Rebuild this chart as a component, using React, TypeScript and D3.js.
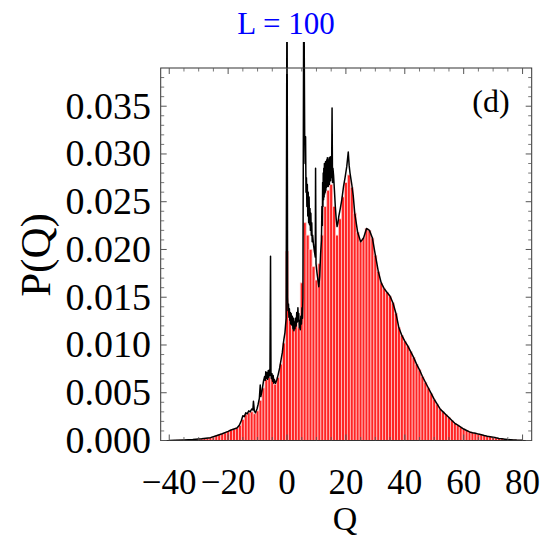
import React from "react";
import * as d3 from "d3";

// Histogram bins (integer Q) and probabilities P(Q)
const binQ: number[] = [];
for (let q = -38; q <= 80; q++) binQ.push(q);
const binP: number[] = [
  0.00002, 0.00003, 0.00004, 0.00005, 0.00006, 0.00008, 0.0001, 0.00012, 0.00015, 0.00018,
  0.0002, 0.00025, 0.0003, 0.0004, 0.0005, 0.0006, 0.0007, 0.0008, 0.00095, 0.0011,
  0.0012, 0.0013, 0.0016, 0.0022, 0.0027, 0.0029, 0.003, 0.0028, 0.0031, 0.0042,
  0.0055, 0.0064, 0.0066, 0.0066, 0.0059, 0.0066, 0.008, 0.0102, 0.0198, 0.0128,
  0.0117, 0.0125, 0.0118, 0.0165, 0.0228, 0.0215, 0.02, 0.0182, 0.0168, 0.0185,
  0.0215, 0.0245, 0.0262, 0.0268, 0.0245, 0.0215, 0.0232, 0.0255, 0.027, 0.0278,
  0.0265, 0.0238, 0.0218, 0.0208, 0.0212, 0.0222, 0.022, 0.0212, 0.0194, 0.0177,
  0.0165, 0.0159, 0.0155, 0.0151, 0.0144, 0.0133, 0.0118, 0.011, 0.0104, 0.0099,
  0.0093, 0.0087, 0.008, 0.0074, 0.0067, 0.0061, 0.0055, 0.0049, 0.0043, 0.0038,
  0.0033, 0.003, 0.0027, 0.0024, 0.0021, 0.0018, 0.0016, 0.0014, 0.0012, 0.00105,
  0.0009, 0.00082, 0.00075, 0.00067, 0.0006, 0.00052, 0.00045, 0.0004, 0.00035, 0.00028,
  0.00022, 0.00018, 0.00014, 0.0001, 0.00008, 0.00006, 0.00004, 0.00003, 0.00002,
];

// Exact distribution (black line), fine-resolution part (Q, P pairs)
const lineQ: number[] = [
  -40, -38, -35, -32, -29, -26, -24, -22, -20, -19, -18, -17, -16.2, -15.5, -15, -14.5, -14, -13.5, -13, -12.5,
  -12, -11.6, -11.4, -11.1, -10.7, -10.2, -9.8, -9.4, -9.1, -8.9, -8.5, -8, -7.6, -7.4, -7.2, -7.0, -6.8, -6.6, -6.4, -6.2,
  -6, -5.8, -5.6, -5.45, -5.3, -5.1, -4.9, -4.7, -4.5, -4.3, -3.9, -3.5, -3, -2.5, -2.1, -1.6, -1.1, -0.7, -0.3, 0,
  0.2, 0.35, 0.5, 0.65, 0.8, 0.95, 1.1, 1.25, 1.4, 1.6, 1.8, 2.0, 2.2, 2.35, 2.5, 2.7, 2.9, 3.1, 3.3, 3.5,
  3.7, 3.85, 4, 4.15, 4.3, 4.5, 4.7, 4.9, 5.1, 5.25, 5.4, 5.7, 6.0, 6.15, 6.3, 6.45, 6.6, 6.75, 6.9, 7.05,
  7.2, 7.35, 7.5, 7.65, 7.8, 7.95, 8.1, 8.25, 8.4, 8.55, 8.7, 9.0, 9.3, 9.6, 9.7, 9.85, 10.2, 10.5, 10.8, 11.1,
  11.4, 11.7, 11.85, 12, 12.1, 12.2, 12.3, 12.4, 12.5, 12.6, 12.7, 12.8, 12.9, 13, 13.1, 13.2, 13.3, 13.4, 13.5, 13.6,
  13.7, 13.8, 13.9, 14, 14.1, 14.2, 14.3, 14.4, 14.5, 14.6, 14.7, 14.8, 14.9, 15.0, 15.15, 15.3, 15.45, 15.6, 15.8, 16.1,
  16.4, 16.7, 17, 17.3, 17.6, 18.1, 18.6, 19.2, 19.7, 20.3, 20.8, 21.1, 21.4, 22, 22.5,
];
const lineP: number[] = [
  0.00001, 0.00002, 0.00005, 0.0001, 0.00018, 0.0003, 0.0005, 0.0007, 0.00095, 0.0011, 0.0012, 0.0013, 0.0016, 0.0021, 0.0026, 0.0025, 0.0029, 0.0028, 0.0031, 0.003,
  0.0033, 0.0032, 0.0041, 0.0031, 0.0029, 0.0033, 0.0038, 0.0044, 0.0058, 0.0046, 0.0052, 0.0062, 0.0067, 0.0063, 0.0072, 0.0065, 0.0071, 0.0064, 0.0073, 0.0066,
  0.0074, 0.0068, 0.0193, 0.0072, 0.0065, 0.007, 0.0062, 0.0068, 0.006, 0.0064, 0.006, 0.0063, 0.0069, 0.0076, 0.0083, 0.0092, 0.0105, 0.0113, 0.0128, 0.05,
  0.015, 0.0136, 0.0143, 0.0129, 0.0138, 0.0126, 0.0134, 0.0122, 0.0133, 0.0121, 0.013, 0.0117, 0.0128, 0.0115, 0.0124, 0.0117, 0.0128, 0.012, 0.0134, 0.0124,
  0.0139, 0.0125, 0.0133, 0.0118, 0.0126, 0.0116, 0.013, 0.0122, 0.0139, 0.0128, 0.015, 0.05, 0.032, 0.029, 0.0318, 0.026, 0.0275, 0.0245, 0.0268, 0.0235,
  0.026, 0.0228, 0.0255, 0.0226, 0.0243, 0.022, 0.0238, 0.0215, 0.0228, 0.0208, 0.0215, 0.0205, 0.0198, 0.0192, 0.0285, 0.0185, 0.0175, 0.0168, 0.0161, 0.0172,
  0.0195, 0.021, 0.0245, 0.0225, 0.027, 0.0245, 0.028, 0.0252, 0.0285, 0.0255, 0.029, 0.0258, 0.0288, 0.026, 0.0292, 0.0262, 0.029, 0.0265, 0.0294, 0.0266,
  0.0296, 0.0268, 0.0293, 0.0266, 0.0294, 0.027, 0.0296, 0.0268, 0.0295, 0.0272, 0.0297, 0.0272, 0.029, 0.0275, 0.0285, 0.0348, 0.027, 0.0285, 0.0278, 0.0262,
  0.0245, 0.0232, 0.0224, 0.0228, 0.0235, 0.0243, 0.0252, 0.0266, 0.0275, 0.0287, 0.0302, 0.0288, 0.028, 0.0268, 0.0256,
];

const xMajor = [-40, -20, 0, 20, 40, 60, 80];
const xMinor = [-35, -30, -25, -15, -10, -5, 5, 10, 15, 25, 30, 35, 45, 50, 55, 65, 70, 75];
const yMajor = [0, 0.005, 0.01, 0.015, 0.02, 0.025, 0.03, 0.035];
const yMinor = [
  0.001, 0.002, 0.003, 0.004, 0.006, 0.007, 0.008, 0.009, 0.011, 0.012, 0.013, 0.014, 0.016, 0.017, 0.018, 0.019,
  0.021, 0.022, 0.023, 0.024, 0.026, 0.027, 0.028, 0.029, 0.031, 0.032, 0.033, 0.034, 0.036, 0.037, 0.038,
];

const W = 547;
const H = 538;
const L = 160.7, R = 531.7, T = 68, B = 440.5;

export default function App() {
  const x = d3.scaleLinear().domain([-42.9, 83.1]).range([L, R]);
  const y = d3.scaleLinear().domain([0, 0.039]).range([B, T]);

  const linePts: [number, number][] = lineQ.map((q, i) => [q, lineP[i]]);
  binQ.forEach((q, i) => {
    if (q >= 23) linePts.push([q, binP[i]]);
  });
  const lineGen = d3
    .line<[number, number]>()
    .x((d) => x(d[0]))
    .y((d) => y(d[1]));

  const font = "'Liberation Serif', 'Times New Roman', serif";
  const fmtY = (v: number) => v.toFixed(3);
  const fmtX = (v: number) => (v < 0 ? "\u2212" + Math.abs(v) : String(v));
  const tickCol = "#555";
  const maj = 6, mnr = 3.5;

  return (
    <div style={{ position: "absolute", left: 0, top: 0 }}>
      <svg width={W} height={H} style={{ display: "block", background: "#fff" }}>
        <defs>
          <clipPath id="plotclip">
            <rect x={L} y={42} width={R - L} height={B - 42} />
          </clipPath>
        </defs>
        {/* bars */}
        <g>
          {binQ.map((q, i) => {
            const x0 = x(q - 0.5);
            const x1 = x(q + 0.5);
            const yy = y(binP[i]);
            return (
              <rect
                key={q}
                x={x0}
                y={yy}
                width={x1 - x0}
                height={B - yy}
                fill="#ff2424"
                stroke="#ffc4c4"
                strokeWidth={0.8}
              />
            );
          })}
        </g>
        {/* exact line */}
        <path
          d={lineGen(linePts) || ""}
          fill="none"
          stroke="#000"
          strokeWidth={1.5}
          strokeLinejoin="round"
          clipPath="url(#plotclip)"
        />
        {/* frame */}
        <rect x={L} y={T} width={R - L} height={B - T} fill="none" stroke="#333" strokeWidth={1} />
        {/* x ticks */}
        {xMajor.map((v) => (
          <g key={"xM" + v} stroke={tickCol} strokeWidth={1}>
            <line x1={x(v)} x2={x(v)} y1={B} y2={B - maj} />
            <line x1={x(v)} x2={x(v)} y1={T} y2={T + maj} />
          </g>
        ))}
        {xMinor.map((v) => (
          <g key={"xm" + v} stroke={tickCol} strokeWidth={0.8}>
            <line x1={x(v)} x2={x(v)} y1={B} y2={B - mnr} />
            <line x1={x(v)} x2={x(v)} y1={T} y2={T + mnr} />
          </g>
        ))}
        {yMajor.map((v) => (
          <g key={"yM" + v} stroke={tickCol} strokeWidth={1}>
            <line x1={L} x2={L + maj} y1={y(v)} y2={y(v)} />
            <line x1={R} x2={R - maj} y1={y(v)} y2={y(v)} />
          </g>
        ))}
        {yMinor.map((v) => (
          <g key={"ym" + v} stroke={tickCol} strokeWidth={0.8}>
            <line x1={L} x2={L + mnr} y1={y(v)} y2={y(v)} />
            <line x1={R} x2={R - mnr} y1={y(v)} y2={y(v)} />
          </g>
        ))}
        {/* tick labels */}
        {xMajor.map((v) => (
          <text
            key={"xl" + v}
            x={x(v)}
            y={494}
            textAnchor="middle"
            fontFamily={font}
            fontSize={35}
            fill="#000"
          >
            {fmtX(v)}
          </text>
        ))}
        {yMajor.map((v) => (
          <text
            key={"yl" + v}
            x={151}
            y={y(v) + 12.5}
            textAnchor="end"
            fontFamily={font}
            fontSize={38}
            fill="#000"
          >
            {fmtY(v)}
          </text>
        ))}
        {/* axis labels */}
        <text x={345} y={530} textAnchor="middle" fontFamily={font} fontSize={34} fill="#000">
          Q
        </text>
        <text
          transform={`translate(50, 255) rotate(-90)`}
          textAnchor="middle"
          fontFamily={font}
          fontSize={43}
          fill="#000"
        >
          P(Q)
        </text>
        {/* title */}
        <text x={286} y={34} textAnchor="middle" fontFamily={font} fontSize={31} fill="#0000ff">
          L = 100
        </text>
        {/* panel label */}
        <text x={491} y={112} textAnchor="middle" fontFamily={font} fontSize={32} fill="#000">
          (d)
        </text>
      </svg>
    </div>
  );
}
